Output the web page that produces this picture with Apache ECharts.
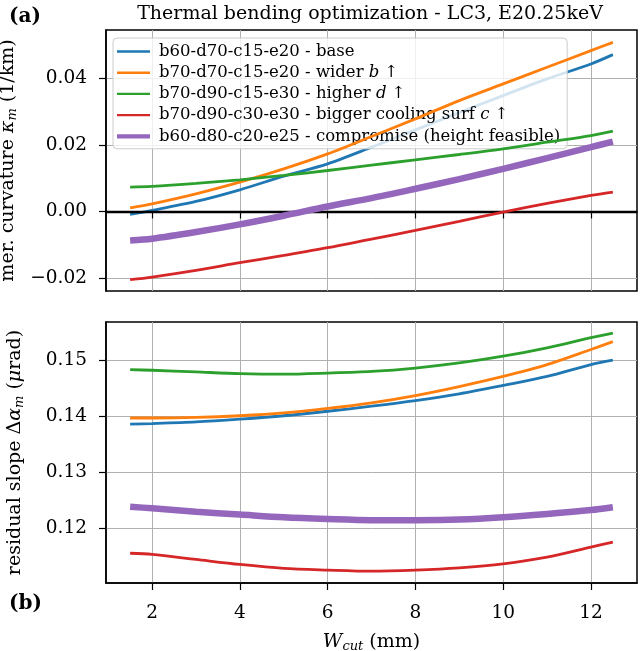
<!DOCTYPE html>
<html>
<head>
<meta charset="utf-8">
<script src="https://cdn.jsdelivr.net/npm/echarts@6/dist/echarts.min.js"></script>
<style>
html, body { margin: 0; padding: 0; background: #fff; }
#chart { width: 640px; height: 651px; }
</style>
</head>
<body>
<div id="chart"></div>
<script>
// W_cut (mm)
const wcut = [1.5, 2, 3, 4, 5, 6, 7, 8, 9, 10, 11, 12, 12.5];

const names = [
  "b60-d70-c15-e20 - base",
  "b70-d70-c15-e20 - wider b ↑",
  "b70-d90-c15-e30 - higher d ↑",
  "b70-d90-c30-e30 - bigger cooling surf c ↑",
  "b60-d80-c20-e25 - compromise (height feasible)",
];

// (a) meridional curvature (1/km)
const kappaBase = [-0.0009, 0.0003, 0.0030, 0.0065, 0.0106, 0.0143, 0.0193, 0.0245, 0.0297, 0.0348, 0.0398, 0.0443, 0.0471];
const kappaWiderB = [0.0011, 0.0023, 0.0053, 0.0088, 0.0128, 0.0173, 0.0225, 0.0278, 0.0333, 0.0383, 0.0433, 0.0483, 0.0508];
const kappaHigherD = [0.0073, 0.0075, 0.0084, 0.0095, 0.0108, 0.0123, 0.0139, 0.0155, 0.0171, 0.0188, 0.0208, 0.0228, 0.0241];
const kappaCooling = [-0.0205, -0.0197, -0.0177, -0.0154, -0.0132, -0.0109, -0.0083, -0.0057, -0.0030, -0.0002, 0.0024, 0.0048, 0.0058];
const kappaCompromise = [-0.0087, -0.0082, -0.0062, -0.0039, -0.0013, 0.0015, 0.0040, 0.0068, 0.0097, 0.0128, 0.0160, 0.0193, 0.0210];

// (b) residual slope (urad)
const slopeBase = [0.1386, 0.1387, 0.1390, 0.1395, 0.1401, 0.1409, 0.1418, 0.1428, 0.1440, 0.1455, 0.1471, 0.1492, 0.1500];
const slopeWiderB = [0.1397, 0.1397, 0.1398, 0.1401, 0.1406, 0.1414, 0.1424, 0.1437, 0.1453, 0.1471, 0.1492, 0.1519, 0.1533];
const slopeHigherD = [0.1483, 0.1482, 0.1479, 0.1476, 0.1475, 0.1477, 0.1480, 0.1486, 0.1495, 0.1507, 0.1522, 0.1540, 0.1548];
const slopeCooling = [0.1156, 0.1154, 0.1145, 0.1136, 0.1129, 0.1126, 0.1124, 0.1126, 0.1130, 0.1137, 0.1149, 0.1167, 0.1176];
const slopeCompromise = [0.1239, 0.1236, 0.1230, 0.1225, 0.1220, 0.1217, 0.1215, 0.1215, 0.1216, 0.1220, 0.1226, 0.1233, 0.1238];

// tick labels
const xTicks = [2, 4, 6, 8, 10, 12];
const kappaTicks = [-0.02, 0, 0.02, 0.04];
const slopeTicks = [0.12, 0.13, 0.14, 0.15];

const colors = ["#1f77b4", "#ff7f0e", "#2ca02c", "#d62728", "#9467bd"];
const widths = [2.8, 2.8, 2.8, 2.8, 6.5];
const FONT = '"DejaVu Serif", serif';

// legend line icons: a bar in the middle, specks in the corners fix the box to 33x16
const thinIcon = "path://M0,6.8H33V9.2H0Z M0,0H0.01V0.01H0Z M32.99,16H33V15.99H32.99Z";
const thickIcon = "path://M0,5.9H33V10.1H0Z M0,0H0.01V0.01H0Z M32.99,16H33V15.99H32.99Z";

const chart = echarts.init(document.getElementById("chart"));

function pairs(ys) {
  return wcut.map((x, i) => [x, ys[i]]);
}
function fmt(v) {
  return (v < 0 ? "\u2212" : "") + Math.abs(v).toFixed(2);
}

const tickStyle = { length: 7, lineStyle: { color: "#000", width: 1.2 } };

const xAxisCommon = {
  type: "value",
  min: 0.95,
  max: 13.05,
  axisLine: { show: true, lineStyle: { color: "#000", width: 1.5 } },
  axisTick: Object.assign({ customValues: xTicks }, tickStyle),
  splitLine: { show: true, lineStyle: { color: "#b0b0b0", width: 1 } },
};

const yAxisCommon = {
  type: "value",
  nameLocation: "middle",
  nameRotate: 90,
  axisLine: { show: true, lineStyle: { color: "#000", width: 1.5 } },
  splitLine: { show: true, lineStyle: { color: "#b0b0b0", width: 1 } },
};

const nameRich = {
  n: { fontFamily: FONT, fontSize: 19, color: "#000", lineHeight: 22, verticalAlign: "middle" },
  i: { fontFamily: FONT, fontSize: 19, fontStyle: "italic", color: "#000", lineHeight: 22, verticalAlign: "middle" },
  s: { fontFamily: FONT, fontSize: 13, fontStyle: "italic", color: "#000", lineHeight: 13, verticalAlign: "bottom" },
};

const series = [];
const kappa = [kappaBase, kappaWiderB, kappaHigherD, kappaCooling, kappaCompromise];
const slope = [slopeBase, slopeWiderB, slopeHigherD, slopeCooling, slopeCompromise];
kappa.forEach((ys, k) => {
  series.push({
    name: names[k],
    type: "line",
    xAxisIndex: 0,
    yAxisIndex: 0,
    data: pairs(ys),
    smooth: 0.3,
    symbol: "none",
    color: colors[k],
    lineStyle: { width: widths[k], color: colors[k] },
    z: 3 + k,
  });
});
slope.forEach((ys, k) => {
  series.push({
    name: names[k],
    type: "line",
    xAxisIndex: 1,
    yAxisIndex: 1,
    data: pairs(ys),
    smooth: 0.3,
    symbol: "none",
    color: colors[k],
    lineStyle: { width: widths[k], color: colors[k] },
    z: 3 + k,
  });
});
// black zero line on top panel
series.push({
  type: "line",
  xAxisIndex: 0,
  yAxisIndex: 0,
  data: [],
  z: 10,
  markLine: {
    silent: true,
    symbol: ["none", "none"],
    label: { show: false },
    lineStyle: { color: "#000", width: 2.4, type: "solid" },
    data: [{ yAxis: 0 }],
  },
});

var option = {
  animation: false,
  backgroundColor: "#fff",
  textStyle: { fontFamily: FONT },
  title: {
    text: "Thermal bending optimization - LC3, E20.25keV",
    left: 365,
    top: 0,
    textAlign: "center",
    textStyle: { fontFamily: FONT, fontSize: 19, fontWeight: "normal", color: "#000" },
  },
  graphic: [
    { type: "text", left: 9, top: 7, style: { text: "(a)", font: 'bold 20px "DejaVu Serif"', fill: "#000" } },
    { type: "text", left: 9, top: 594, style: { text: "(b)", font: 'bold 20px "DejaVu Serif"', fill: "#000" } },
  ],
  legend: {
    data: names.map((n, k) => ({ name: n, icon: k === 4 ? thickIcon : thinIcon })),
    orient: "vertical",
    left: 113,
    top: 38,
    padding: [5, 7, 4, 4],
    itemWidth: 33,
    itemHeight: 16,
    itemGap: 4.2,
    backgroundColor: "rgba(255,255,255,0.8)",
    borderColor: "#cccccc",
    borderWidth: 1,
    borderRadius: 4,
    formatter: (name) => name.replace(/ ([bdc]) ↑$/, " {i|$1} ↑"),
    textStyle: {
      fontFamily: FONT,
      fontSize: 16.5,
      lineHeight: 16,
      color: "#000",
      padding: [0, 0, 0, 4],
      rich: { i: { fontFamily: FONT, fontSize: 16.5, lineHeight: 16, fontStyle: "italic", color: "#000" } },
    },
  },
  grid: [
    { left: 106, right: 3, top: 30, height: 261, outerBoundsMode: "none", show: true, borderColor: "#000", borderWidth: 1.5, backgroundColor: "transparent" },
    { left: 106, right: 3, top: 322, height: 261, outerBoundsMode: "none", show: true, borderColor: "#000", borderWidth: 1.5, backgroundColor: "transparent" },
  ],
  xAxis: [
    Object.assign({}, xAxisCommon, {
      gridIndex: 0,
      axisLabel: { show: false, customValues: xTicks },
    }),
    Object.assign({}, xAxisCommon, {
      gridIndex: 1,
      axisLabel: { customValues: xTicks, fontFamily: FONT, fontSize: 18.5, color: "#000", margin: 21 },
      name: "{i|W}{s|cut}{n| (mm)}",
      nameLocation: "middle",
      nameGap: 48,
      nameTextStyle: { rich: nameRich },
    }),
  ],
  yAxis: [
    Object.assign({}, yAxisCommon, {
      gridIndex: 0,
      min: -0.0239,
      max: 0.0545,
      axisTick: Object.assign({ customValues: kappaTicks }, tickStyle),
      axisLabel: { customValues: kappaTicks, formatter: fmt, fontFamily: FONT, fontSize: 18.5, color: "#000", margin: 19 },
      name: "{n|mer. curvature }{i|κ}{s|m}{n| (1/km)}",
      nameGap: 80,
      nameTextStyle: { rich: nameRich },
    }),
    Object.assign({}, yAxisCommon, {
      gridIndex: 1,
      min: 0.1103,
      max: 0.1568,
      axisTick: Object.assign({ customValues: slopeTicks }, tickStyle),
      axisLabel: { customValues: slopeTicks, formatter: fmt, fontFamily: FONT, fontSize: 18.5, color: "#000", margin: 19 },
      name: "{n|residual slope Δ}{i|α}{s|m}{n| (}{i|μ}{n|rad)}",
      nameGap: 80,
      nameTextStyle: { rich: nameRich },
    }),
  ],
  series: series,
};
chart.setOption(option);
window.addEventListener("resize", () => chart.resize());
</script>
</body>
</html>
